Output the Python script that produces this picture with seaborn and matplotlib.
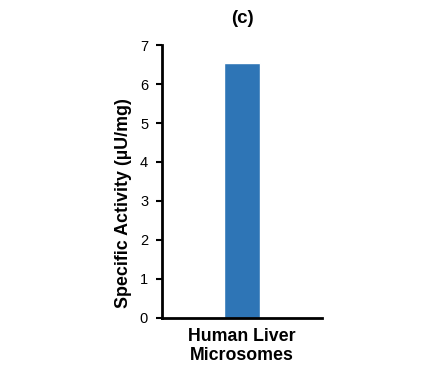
import matplotlib
matplotlib.use("Agg")
import matplotlib.pyplot as plt
import seaborn as sns
import pandas as pd

categories = ["Human Liver\nMicrosomes"]
values = [6.54]
title = "(c)"
ylabel = "Specific Activity (µU/mg)"

sns.set_theme(style="white")
plt.rcParams['font.family'] = ['Liberation Sans', 'DejaVu Sans']
plt.rcParams['text.color'] = 'black'
plt.rcParams['axes.labelcolor'] = 'black'
plt.rcParams['xtick.color'] = 'black'
plt.rcParams['ytick.color'] = 'black'

fig = plt.figure(figsize=(4.43, 3.68), dpi=100)
ax = fig.add_axes([0.3657, 0.1359, 0.3612, 0.7418])
df = pd.DataFrame({"cat": categories, "val": values})
sns.barplot(data=df, x="cat", y="val", color="#2E75B6", saturation=1, width=0.23, ax=ax)
ax.set_xlim(-0.5, 0.5)
ax.set_ylim(0, 7)
ax.set_yticks(range(0, 8))
ax.tick_params(axis='y', left=True, direction='out', length=4, width=1.5,
               color='black', labelcolor='black', labelsize=10.5, pad=6)
ax.tick_params(axis='x', bottom=False, length=0, labelsize=12.8, labelcolor='black', pad=7)
for lab in ax.get_xticklabels():
    lab.set_fontweight('bold')
    lab.set_linespacing(1.15)
ax.set_xlabel("")
ax.set_ylabel("")
fig.text(124 / 443, 1 - 203 / 368, ylabel, rotation=90, ha='center', va='center',
         fontsize=12.9, fontweight='bold', color='black')
for s in ['top', 'right']:
    ax.spines[s].set_visible(False)
for s in ['left', 'bottom']:
    ax.spines[s].set_color('black')
    ax.spines[s].set_linewidth(2)
fig.text(0.548, 0.95, title, ha='center', va='center', fontsize=13.5, fontweight='bold', color='black')
fig.savefig("out.png", dpi=100)
